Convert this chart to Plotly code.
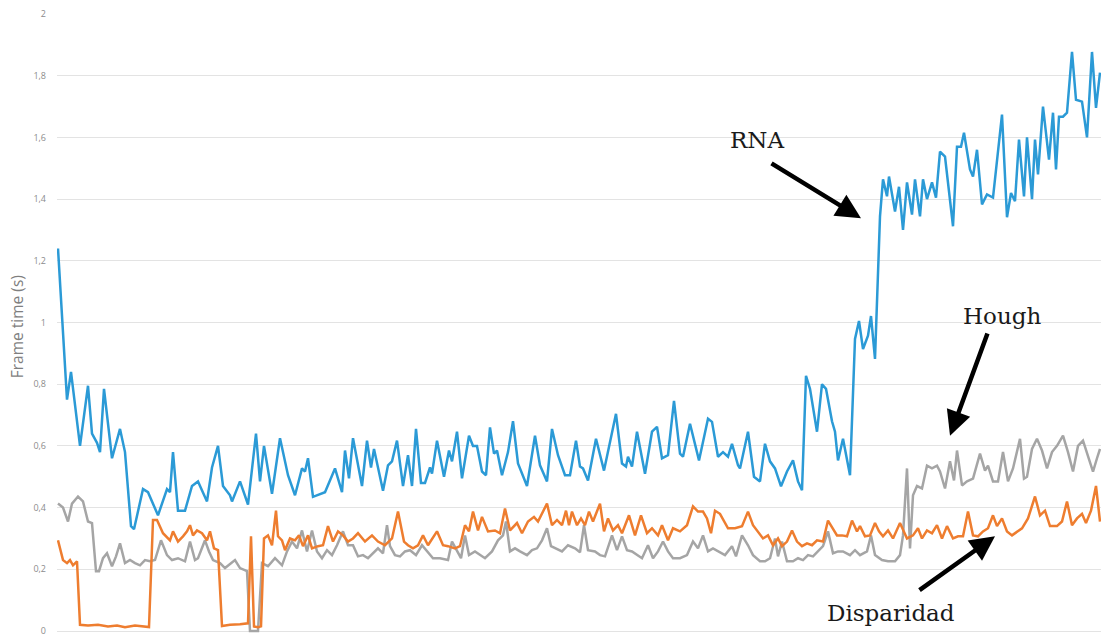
import plotly.graph_objects as go

# ---- data (frame index, frame time in seconds) ----
rna_frame = [
    0, 9, 13, 22, 30, 34, 39, 42, 46, 54,
    62, 67, 73, 76, 85, 90, 100, 109, 112, 115,
    120, 127, 134, 140, 149, 154, 160, 165, 172, 174,
    182, 190, 198, 202, 206, 214, 222, 230, 237, 244,
    247, 250, 255, 267, 277, 284, 287, 291, 295, 304,
    309, 313, 316, 325, 330, 334, 339, 345, 350, 354,
    358, 363, 367, 372, 374, 379, 386, 391, 394, 399,
    404, 411, 415, 419, 424, 428, 432, 436, 439, 444,
    450, 455, 460, 469, 477, 482, 489, 494, 500, 507,
    512, 518, 522, 525, 530, 538, 546, 558, 564, 568,
    570, 574, 579, 587, 594, 599, 604, 610, 616, 622,
    625, 632, 641, 650, 654, 660, 665, 670, 674, 680,
    682, 690, 696, 702, 707, 712, 717, 723, 729, 735,
    740, 744, 748, 752, 759, 764, 768, 774, 777, 780,
    785, 792, 797, 801, 805, 810, 813, 817, 822, 825,
    829, 831, 837, 841, 845, 849, 854, 857, 862, 865,
    869, 874, 878, 882, 887, 890, 895, 899, 903, 906,
    912, 915, 919, 924, 929, 935, 944, 949, 953, 957,
    961, 966, 969, 974, 977, 980, 985, 991, 995, 998,
    1001, 1005, 1009, 1014, 1018, 1024, 1029, 1034, 1038, 1042,
]
rna_time = [
    1.24, 0.75, 0.84, 0.60, 0.795, 0.64, 0.61, 0.58, 0.785, 0.56,
    0.655, 0.58, 0.34, 0.33, 0.46, 0.45, 0.375, 0.46, 0.45, 0.58,
    0.39, 0.39, 0.47, 0.485, 0.42, 0.53, 0.60, 0.47, 0.44, 0.42,
    0.485, 0.41, 0.64, 0.485, 0.60, 0.445, 0.625, 0.505, 0.44, 0.527,
    0.517, 0.56, 0.435, 0.45, 0.527, 0.45, 0.585, 0.495, 0.625, 0.47,
    0.617, 0.53, 0.59, 0.455, 0.537, 0.55, 0.617, 0.47, 0.57, 0.47,
    0.655, 0.48, 0.48, 0.53, 0.51, 0.617, 0.50, 0.585, 0.55, 0.646,
    0.495, 0.633, 0.60, 0.60, 0.517, 0.505, 0.66, 0.575, 0.585, 0.505,
    0.58, 0.68, 0.543, 0.47, 0.633, 0.537, 0.485, 0.655, 0.57, 0.505,
    0.505, 0.617, 0.533, 0.527, 0.488, 0.623, 0.52, 0.704, 0.543, 0.533,
    0.565, 0.533, 0.646, 0.51, 0.646, 0.662, 0.56, 0.57, 0.746, 0.575,
    0.565, 0.672, 0.553, 0.688, 0.678, 0.565, 0.58, 0.565, 0.607, 0.537,
    0.527, 0.646, 0.50, 0.485, 0.607, 0.55, 0.527, 0.469, 0.517, 0.553,
    0.485, 0.456, 0.827, 0.785, 0.646, 0.80, 0.785, 0.68, 0.646, 0.553,
    0.623, 0.505, 0.947, 1.005, 0.914, 0.957, 1.021, 0.882, 1.344, 1.464,
    1.409, 1.473, 1.36, 1.44, 1.30, 1.454, 1.35, 1.464, 1.344, 1.464,
    1.40, 1.454, 1.405, 1.554, 1.538, 1.454, 1.312, 1.57, 1.57, 1.615,
    1.496, 1.473, 1.56, 1.383, 1.415, 1.405, 1.674, 1.341, 1.42, 1.393,
    1.593, 1.409, 1.60, 1.40, 1.593, 1.48, 1.70, 1.528, 1.68, 1.496,
    1.667, 1.667, 1.68, 1.877, 1.722, 1.716, 1.60, 1.877, 1.696, 1.81,
]

disp_frame = [
    0, 5, 9, 12, 15, 19, 22, 30, 40, 50,
    59, 67, 77, 85, 91, 95, 99, 105, 112, 115,
    120, 125, 129, 132, 135, 139, 144, 149, 152, 156,
    160, 164, 172, 182, 190, 193, 196, 200, 203, 206,
    210, 214, 218, 220, 224, 227, 232, 237, 241, 245,
    250, 254, 260, 265, 270, 275, 280, 285, 290, 295,
    300, 307, 314, 320, 327, 334, 340, 346, 350, 355,
    360, 365, 370, 379, 385, 390, 397, 402, 407, 411,
    415, 420, 424, 430, 437, 442, 447, 452, 459, 464,
    470, 476, 480, 489, 494, 499, 504, 508, 511, 514,
    519, 523, 527, 531, 535, 542, 546, 550, 555, 560,
    564, 571, 577, 583, 589, 594, 600, 604, 610, 615,
    622, 629, 635, 640, 645, 649, 653, 657, 662, 670,
    677, 684, 690, 695, 700, 705, 710, 715, 720, 724,
    729, 734, 739, 744, 749, 754, 759, 765, 770, 775,
    779, 784, 789, 794, 799, 802, 807, 812, 817, 821,
    825, 830, 835, 842, 849, 855, 860, 864, 869, 874,
    879, 884, 889, 895, 900, 905, 910, 915, 920, 925,
    930, 935, 939, 944, 949, 954, 959, 964, 970, 977,
    982, 987, 992, 999, 1004, 1009, 1014, 1019, 1024, 1028,
    1033, 1038, 1042,
]
disp_time = [
    0.294, 0.23, 0.22, 0.23, 0.213, 0.226, 0.02, 0.018, 0.02, 0.015,
    0.018, 0.012, 0.018, 0.015, 0.013, 0.36, 0.36, 0.317, 0.294, 0.323,
    0.29, 0.307, 0.323, 0.343, 0.31, 0.326, 0.317, 0.294, 0.323, 0.268,
    0.262, 0.016, 0.02, 0.022, 0.025, 0.307, 0.015, 0.012, 0.015, 0.30,
    0.31, 0.278, 0.39, 0.307, 0.294, 0.262, 0.30, 0.294, 0.31, 0.275,
    0.31, 0.268, 0.275, 0.278, 0.34, 0.29, 0.323, 0.31, 0.29, 0.30,
    0.317, 0.29, 0.31, 0.29, 0.278, 0.30, 0.387, 0.29, 0.278, 0.268,
    0.278, 0.31, 0.278, 0.323, 0.278, 0.275, 0.268, 0.275, 0.343, 0.323,
    0.387, 0.326, 0.37, 0.323, 0.326, 0.317, 0.397, 0.326, 0.35, 0.317,
    0.355, 0.37, 0.355, 0.413, 0.343, 0.36, 0.343, 0.39, 0.343, 0.387,
    0.343, 0.365, 0.343, 0.387, 0.355, 0.413, 0.323, 0.365, 0.326, 0.343,
    0.317, 0.375, 0.31, 0.375, 0.317, 0.333, 0.31, 0.343, 0.294, 0.333,
    0.323, 0.343, 0.404, 0.387, 0.387, 0.365, 0.317, 0.39, 0.38, 0.333,
    0.333, 0.34, 0.387, 0.343, 0.323, 0.30, 0.31, 0.278, 0.30, 0.275,
    0.29, 0.326, 0.29, 0.275, 0.284, 0.278, 0.294, 0.29, 0.358, 0.333,
    0.31, 0.31, 0.307, 0.358, 0.323, 0.34, 0.307, 0.31, 0.35, 0.323,
    0.307, 0.326, 0.30, 0.35, 0.30, 0.31, 0.333, 0.30, 0.326, 0.317,
    0.343, 0.30, 0.34, 0.30, 0.307, 0.307, 0.387, 0.31, 0.307, 0.323,
    0.333, 0.375, 0.34, 0.365, 0.323, 0.31, 0.323, 0.333, 0.365, 0.436,
    0.375, 0.39, 0.34, 0.34, 0.355, 0.42, 0.343, 0.365, 0.38, 0.35,
    0.39, 0.47, 0.355,
]

hough_frame = [
    0, 5, 10, 14, 20, 25, 30, 34, 38, 41,
    45, 49, 54, 58, 62, 67, 72, 77, 82, 87,
    92, 97, 103, 109, 114, 120, 127, 132, 137, 140,
    147, 151, 155, 162, 167, 177, 182, 189, 192, 200,
    204, 210, 217, 224, 229, 234, 239, 244, 249, 254,
    259, 264, 269, 274, 279, 285, 290, 295, 300, 305,
    310, 315, 320, 325, 329, 332, 337, 342, 347, 352,
    358, 364, 369, 375, 382, 390, 394, 399, 403, 407,
    411, 417, 422, 427, 434, 440, 445, 448, 452, 457,
    462, 469, 474, 479, 484, 489, 493, 497, 504, 510,
    517, 522, 526, 530, 537, 542, 547, 554, 559, 564,
    569, 574, 579, 584, 590, 595, 600, 605, 610, 615,
    622, 629, 635, 640, 645, 650, 655, 660, 667, 674,
    678, 684, 690, 695, 702, 707, 712, 717, 720, 724,
    729, 735, 740, 745, 750, 755, 760, 765, 770, 775,
    780, 785, 792, 797, 802, 809, 813, 817, 824, 830,
    837, 842, 845, 849, 852, 855, 859, 864, 869, 874,
    879, 882, 887, 892, 896, 899, 904, 909, 915, 922,
    927, 930, 935, 940, 945, 950, 955, 959, 962, 966,
    969, 974, 979, 984, 989, 994, 999, 1005, 1010, 1015,
    1020, 1025, 1030, 1035, 1039, 1042,
]
hough_time = [
    0.413, 0.40, 0.355, 0.413, 0.436, 0.42, 0.355, 0.35, 0.194, 0.194,
    0.236, 0.252, 0.21, 0.242, 0.284, 0.22, 0.23, 0.22, 0.213, 0.23,
    0.226, 0.23, 0.294, 0.246, 0.23, 0.236, 0.226, 0.29, 0.23, 0.236,
    0.294, 0.258, 0.23, 0.22, 0.204, 0.23, 0.204, 0.194, 0.0, 0.0,
    0.22, 0.21, 0.236, 0.213, 0.258, 0.29, 0.268, 0.326, 0.258, 0.326,
    0.258, 0.236, 0.262, 0.246, 0.278, 0.323, 0.278, 0.278, 0.242, 0.246,
    0.236, 0.252, 0.268, 0.252, 0.343, 0.275, 0.246, 0.242, 0.258, 0.262,
    0.246, 0.278, 0.258, 0.236, 0.236, 0.23, 0.29, 0.258, 0.236, 0.31,
    0.246, 0.258, 0.246, 0.236, 0.258, 0.294, 0.31, 0.355, 0.258, 0.268,
    0.258, 0.246, 0.262, 0.268, 0.294, 0.333, 0.275, 0.268, 0.258, 0.278,
    0.268, 0.255, 0.343, 0.262, 0.258, 0.246, 0.242, 0.31, 0.262, 0.307,
    0.262, 0.258, 0.246, 0.236, 0.278, 0.236, 0.258, 0.29, 0.258, 0.236,
    0.236, 0.246, 0.29, 0.268, 0.31, 0.258, 0.268, 0.258, 0.246, 0.275,
    0.242, 0.31, 0.278, 0.246, 0.226, 0.226, 0.236, 0.30, 0.242, 0.29,
    0.226, 0.226, 0.236, 0.23, 0.246, 0.242, 0.258, 0.275, 0.323, 0.252,
    0.258, 0.258, 0.246, 0.262, 0.246, 0.258, 0.31, 0.246, 0.23, 0.226,
    0.226, 0.246, 0.31, 0.527, 0.268, 0.44, 0.47, 0.462, 0.536, 0.527,
    0.536, 0.517, 0.462, 0.55, 0.488, 0.585, 0.472, 0.485, 0.494, 0.575,
    0.52, 0.536, 0.485, 0.485, 0.58, 0.485, 0.527, 0.58, 0.623, 0.494,
    0.50, 0.59, 0.623, 0.585, 0.527, 0.58, 0.60, 0.633, 0.58, 0.517,
    0.60, 0.617, 0.57, 0.517, 0.56, 0.59,
]

y_ticks = [0, 0.2, 0.4, 0.6, 0.8, 1.0, 1.2, 1.4, 1.6, 1.8, 2.0]

# ---- styling ----
BLUE = "#2b9ad6"
ORANGE = "#ee7d2f"
GRAY = "#a5a5a5"
LABEL_FONT = dict(family="DejaVu Serif", size=23, color="#1a1a1a")

fig = go.Figure()
fig.add_trace(go.Scatter(x=hough_frame, y=hough_time, mode="lines", name="Hough",
                         line=dict(color=GRAY, width=2.5)))
fig.add_trace(go.Scatter(x=disp_frame, y=disp_time, mode="lines", name="Disparidad",
                         line=dict(color=ORANGE, width=2.5)))
fig.add_trace(go.Scatter(x=rna_frame, y=rna_time, mode="lines", name="RNA",
                         line=dict(color=BLUE, width=2.5)))

annotations = [
    # y-axis title
    dict(text="Frame time (s)", xref="paper", yref="paper", x=-0.0375, y=0.497,
         textangle=-90, showarrow=False, xanchor="center", yanchor="middle",
         font=dict(family="Open Sans", size=15.5, color="#7f7f7f")),
    # labels
    dict(text="RNA", xref="paper", yref="paper", x=0.6705, y=0.7965,
         showarrow=False, xanchor="center", yanchor="middle", font=LABEL_FONT),
    dict(text="Hough", xref="paper", yref="paper", x=0.905, y=0.513,
         showarrow=False, xanchor="center", yanchor="middle", font=LABEL_FONT),
    dict(text="Disparidad", xref="paper", yref="paper", x=0.799, y=0.036,
         showarrow=False, xanchor="center", yanchor="middle", font=LABEL_FONT),
]
arrows = [
    (803, 1.338, 712, 1.519),
    (892, 0.633, 930, 0.969),
    (937, 0.307, 860, 0.129),
]
for (xt, yt, xs, ys) in arrows:
    annotations.append(dict(
        text="", x=xt, y=yt, xref="x", yref="y", ax=xs, ay=ys, axref="x", ayref="y",
        showarrow=True, arrowhead=2, arrowsize=1.1, arrowwidth=4.5, arrowcolor="#000000",
        standoff=0, startstandoff=0))

fig.update_layout(
    width=1102, height=637,
    margin=dict(l=57, r=1, t=14, b=0),
    paper_bgcolor="white", plot_bgcolor="white",
    separators=", ",
    showlegend=False,
    annotations=annotations,
    xaxis=dict(range=[-1, 1043], showgrid=False, zeroline=False, showticklabels=False,
               showline=False, ticks=""),
    yaxis=dict(range=[-4 / 309.5, 2], tickvals=y_ticks, showgrid=True, gridcolor="#e3e3e3",
               gridwidth=1, zeroline=False, showline=False, ticks="",
               ticklabelstandoff=10, ticklabeloverflow="allow",
               tickfont=dict(family="Open Sans", size=9, color="#8c8c8c")),
)

fig.write_html("out.html")
